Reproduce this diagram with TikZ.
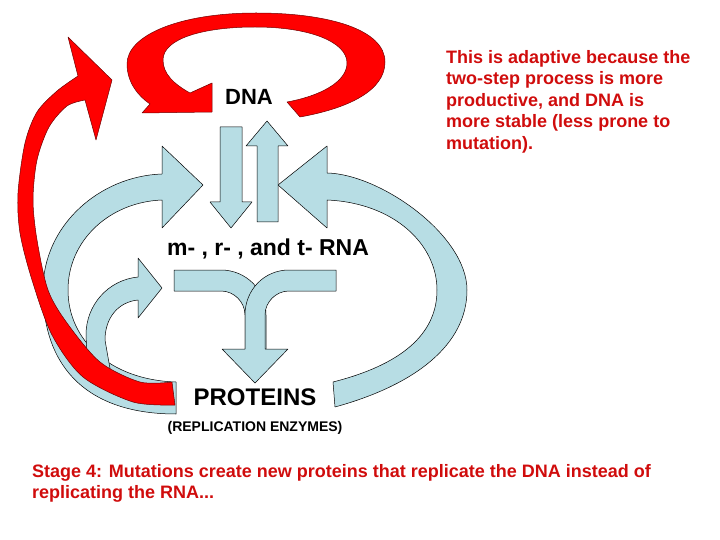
\documentclass[tikz,border=0pt]{standalone}
\usepackage{fontspec}
\setmainfont{Liberation Sans}
\usepackage{xcolor}
\definecolor{paleblue}{RGB}{183,221,228}
\definecolor{loopred}{RGB}{255,0,0}
\definecolor{rimred}{RGB}{110,0,0}
\definecolor{notered}{RGB}{208,12,12}

\tikzset{
  bluearrow/.style={draw=black, line width=0.5pt, fill=paleblue, line join=round},
  redarrow/.style={draw=rimred, line width=0.5pt, fill=loopred, line join=round},
  blacktext/.style={inner sep=0pt, anchor=base, text=black},
  redtext/.style={inner sep=0pt, anchor=north west, align=left, text=notered,
    font=\bfseries\fontsize{18}{21.5}\selectfont},
}

\begin{document}
\begin{tikzpicture}[x=1pt, y=-1pt]
    \useasboundingbox (0,0) rectangle (720,540);

    % Big blue arc, left side (proteins back up to RNA)
    \draw[bluearrow] (162,174) .. controls (100,176) and (43,225) .. (43,290)
        .. controls (43,370) and (90,414) .. (176,414) -- (176,382)
        .. controls (110,380) and (68,340) .. (68,290)
        .. controls (68,240) and (110,202) .. (162,200)
        -- (162,228) -- (203,185) -- (162,146) -- cycle;

    % Small blue arc, left side
    \draw[bluearrow] (138,277) .. controls (108,280) and (86,305) .. (86,335) -- (88,378)
        -- (112,380) -- (105,340) .. controls (105,318) and (118,302) .. (138,300)
        -- (138,318) -- (162,288) -- (138,258) -- cycle;

    % Big blue arc, right side
    \draw[bluearrow] (327,173) .. controls (380,174) and (467,235) .. (467,290)
        .. controls (467,345) and (415,385) .. (335,407) -- (333,382)
        .. controls (400,365) and (437,335) .. (437,290)
        .. controls (437,245) and (395,203) .. (327,200)
        -- (327,228) -- (278,185) -- (327,146) -- cycle;

    % DNA -> RNA and RNA -> DNA
    \draw[bluearrow] (220,127) -- (242,127) -- (242,202) -- (252,202) -- (231,228) -- (210,202) -- (220,202) -- cycle;
    \draw[bluearrow] (257,222) -- (278,222) -- (278,146) -- (288,146) -- (267,121) -- (246,146) -- (257,146) -- cycle;

    % RNA -> proteins (two bands joining)
    \draw[bluearrow] (174,270) -- (221,270) .. controls (246,270) and (266,290) .. (266,315)
        -- (266,349) -- (245,349) -- (245,315) .. controls (245,302) and (234,291) .. (221,291) -- (174,291) -- cycle;
    \draw[bluearrow] (336,270) -- (289,270) .. controls (264,270) and (245,290) .. (245,315)
        -- (245,349) -- (222,349) -- (255,383) -- (288,349) -- (265,349)
        -- (265,315) .. controls (265,302) and (276,291) .. (289,291) -- (336,291) -- cycle;

    % Red loop round DNA
    \draw[redarrow] (300,117) .. controls (350,108) and (385,90) .. (385,62)
        .. controls (385,30) and (330,13) .. (256,13)
        .. controls (180,13) and (127,35) .. (127,64)
        .. controls (127,82) and (138,96) .. (150,104)
        -- (142,113) -- (212,112) -- (212,83) -- (190,93)
        .. controls (174,84) and (163,74) .. (163,60)
        .. controls (163,38) and (205,27) .. (255,27)
        .. controls (310,27) and (347,42) .. (347,63)
        .. controls (347,82) and (320,96) .. (287,102) -- cycle;

    % Red arrow, proteins -> DNA
    \draw[redarrow] (68,37) -- (112,80) -- (96,140) -- (85,100)
        -- plot[smooth] coordinates {(85,100) (67,106) (49,127) (37,160) (33,200) (37,240) (48,290) (67,323) (100,362) (140,382) (172,382)}
        -- (175,405)
        -- plot[smooth] coordinates {(175,405) (133,402) (83,377) (52,335) (32,280) (20,233) (18,193) (25,143) (37,112) (57,91) (78,76)}
        -- cycle;

    % Labels
    \node[blacktext, font=\bfseries\fontsize{22}{26}\selectfont] (dna) at (249,105) {DNA};
    \node[blacktext, font=\bfseries\fontsize{23}{27}\selectfont] (rna) at (268,255) {m- , r- , and t- RNA};
    \node[blacktext, font=\bfseries\fontsize{24}{28}\selectfont] (proteins) at (255,405) {PROTEINS};
    \node[blacktext, font=\bfseries\fontsize{14}{16}\selectfont] (enzymes) at (255,431) {(REPLICATION ENZYMES)};

    % Notes in red
    \node[redtext] (adaptive) at (446,50) {This is adaptive because the\\two-step process is more\\productive, and DNA is\\more stable (less prone to\\mutation).};
    \node[redtext] (stage) at (32,464) {Stage 4: Mutations create new proteins that replicate the DNA instead of\\replicating the RNA...};
\end{tikzpicture}
\end{document}
